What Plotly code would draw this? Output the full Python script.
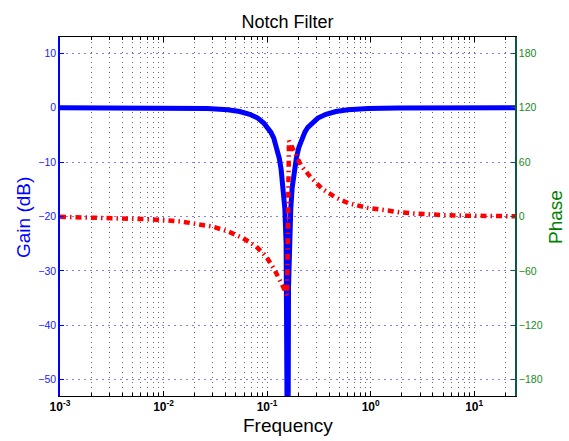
import plotly.graph_objects as go

# Gain curve (blue, left axis)
freq_gain = [0.001, 0.001837, 0.0056, 0.01365, 0.0266, 0.0416, 0.0544, 0.0679, 0.0812,
             0.0928, 0.1015, 0.1085, 0.116, 0.124, 0.1311, 0.1365, 0.144, 0.1483, 0.1526,
             0.156, 0.1585, 0.161, 0.1646, 0.1694, 0.1744, 0.184, 0.1916, 0.2025, 0.2165,
             0.2316, 0.2475, 0.2706, 0.3093, 0.3698, 0.4621, 0.6038, 0.9429, 1.841, 4.49,
             13.68, 25.0]
gain_db = [0, -0.01, -0.02, -0.05, -0.15, -0.38, -0.7, -1.2, -1.9,
           -2.8, -3.6, -4.5, -5.6, -7.3, -9.3, -11.3, -14.8, -18.5, -25,
           -33, -80, -33, -25, -18.5, -14.8, -11.3, -9.3, -7.3, -5.6,
           -4.5, -3.6, -2.8, -1.9, -1.2, -0.7, -0.38, -0.15, -0.05, -0.02,
           -0.01, 0]

# Phase curve (red, right axis)
freq_phase = [0.001, 0.00753, 0.01503, 0.02128, 0.02972, 0.04159, 0.05808, 0.07834,
              0.09772, 0.1178, 0.1365, 0.1524, 0.156, 0.1626, 0.1837, 0.2133, 0.2667,
              0.3404, 0.4656, 0.6266, 0.9419, 1.315, 1.91, 2.667, 3.724, 5.321, 7.551,
              10.54, 15.07, 24.8]
phase_deg = [-0.35, -3.1, -5.6, -8.2, -11.2, -16.3, -23.6, -33,
             -44, -58.6, -73, -84.4, -86.5, 83.5, 70, 56, 42.6,
             30.5, 20.5, 14.2, 9.5, 6.9, 4.7, 3.2, 2.1, 1.4, 1.0,
             0.7, 0.4, 0.25]

gain_ticks = [-50, -40, -30, -20, -10, 0, 10]
phase_ticks = [-180, -120, -60, 0, 60, 120, 180]
x_tick_vals = [0.001, 0.01, 0.1, 1, 10]
x_tick_text = ["<b>10<sup>-3</sup></b>", "<b>10<sup>-2</sup></b>", "<b>10<sup>-1</sup></b>",
               "<b>10<sup>0</sup></b>", "<b>10<sup>1</sup></b>"]
x_minor_vals = [m * d for d in x_tick_vals for m in range(2, 10) if m * d <= 25]

FONT = "Liberation Sans, Arial, Helvetica, sans-serif"

fig = go.Figure()
fig.add_trace(go.Scatter(x=freq_gain, y=gain_db, mode="lines",
                         line=dict(color="#0000ff", width=5), yaxis="y",
                         showlegend=False, hoverinfo="skip"))
fig.add_trace(go.Scatter(x=freq_phase, y=phase_deg, mode="lines",
                         line=dict(color="#ff0000", width=4.5, dash="6px,4px,1.5px,4px"),
                         yaxis="y2", showlegend=False, hoverinfo="skip"))

fig.update_layout(
    width=569, height=441,
    margin=dict(l=60, r=54, t=37, b=45),
    paper_bgcolor="white", plot_bgcolor="white",
    font=dict(family=FONT),
    title=dict(text="Notch Filter", x=(60 + 515) / 2 / 569, xanchor="center",
               yref="container", y=1 - 21.5 / 441, yanchor="middle",
               font=dict(size=18, color="black", family=FONT)),
    xaxis=dict(type="log", range=[-3, 1.394],
               tickmode="array", tickvals=x_tick_vals, ticktext=x_tick_text,
               ticks="inside", ticklen=5, tickcolor="black",
               showline=True, linecolor="black", linewidth=1, mirror="ticks",
               showgrid=True, gridcolor="#666666", griddash="1px,4px", gridwidth=1,
               tickfont=dict(size=12, color="black"),
               zeroline=False,
               minor=dict(tickmode="array", tickvals=x_minor_vals,
                          ticks="inside", ticklen=3, tickcolor="black",
                          showgrid=True, gridcolor="#666666", griddash="1px,4px",
                          gridwidth=1)),
    yaxis=dict(range=[-53, 13], tickmode="array", tickvals=gain_ticks,
               ticks="inside", ticklen=4, tickcolor="#0000ff",
               showline=True, linecolor="#0000ff", linewidth=1.5,
               showgrid=True, gridcolor="#8080ff", griddash="2px,4px", gridwidth=1,
               tickfont=dict(size=10.5, color="#2020ff"), zeroline=False),
    yaxis2=dict(overlaying="y", side="right", range=[-198, 198],
                tickmode="array", tickvals=phase_ticks,
                ticks="inside", ticklen=4, tickcolor="#0a5a4a",
                showline=True, linecolor="#0a5a4a", linewidth=1.5,
                showgrid=False, tickfont=dict(size=10.5, color="#1a8a1a"),
                zeroline=False),
    annotations=[
        dict(text="Gain (dB)", xref="paper", yref="paper",
             x=(24 - 60) / 455, y=(396 - 218) / 359, textangle=-90,
             xanchor="center", yanchor="middle", showarrow=False,
             font=dict(size=19, color="#0000ff", family=FONT)),
        dict(text="Phase", xref="paper", yref="paper",
             x=(555 - 60) / 455, y=(396 - 217) / 359, textangle=-90,
             xanchor="center", yanchor="middle", showarrow=False,
             font=dict(size=19, color="#008000", family=FONT)),
        dict(text="Frequency", xref="paper", yref="paper",
             x=(288 - 60) / 455, y=(396 - 425) / 359,
             xanchor="center", yanchor="middle", showarrow=False,
             font=dict(size=19, color="black", family=FONT)),
    ],
)

fig.write_html("out.html", config={"displayModeBar": False},
               post_script="document.body.style.margin='0px';document.body.style.padding='0px';")
